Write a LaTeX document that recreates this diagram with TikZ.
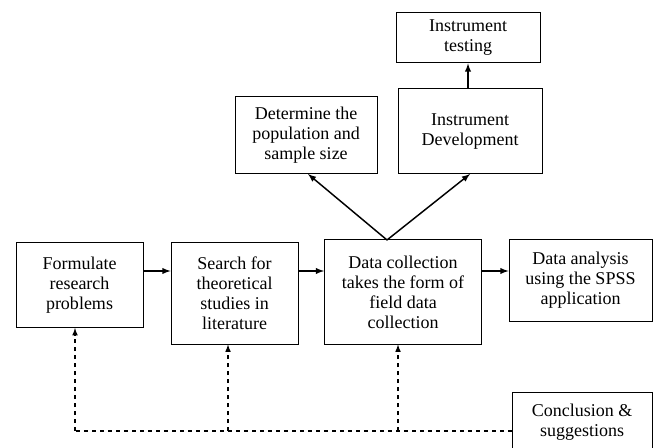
\documentclass[tikz,border=0pt]{standalone}
\usepackage{fontspec}
\setmainfont{Liberation Serif}
\usepackage{tikz}
\usetikzlibrary{positioning, arrows}

\tikzset{
    stage/.style={draw, line width=0.75, align=center, inner sep=0pt,
        font=\fontsize{13.5}{15}\selectfont},
    flow/.style={->, >=latex, line width=1.1},
    back/.style={->, >=latex, dashed, line width=0.9}
}

\begin{document}
\begin{tikzpicture}[x=0.75pt,y=0.75pt,yscale=-1,xscale=1]
    \useasboundingbox (0,0) rectangle (655,448);

    % Boxes of the main row
    \node [stage, minimum width=95.25pt, minimum height=63.75pt] (form) at (79.5,285) {Formulate\\research\\problems};
    \node [stage, minimum width=95.25pt, minimum height=75.75pt] (search) at (234.5,293.5) {Search for\\theoretical\\studies in\\literature};
    \node [stage, minimum width=117.75pt, minimum height=78pt] (collect) at (403,292) {Data collection\\takes the form of\\field data\\collection};
    \node [stage, minimum width=107.25pt, minimum height=60.75pt] (analysis) at (580.5,280.5) {Data analysis\\using the SPSS\\application};

    % Boxes above
    \node [stage, minimum width=106.5pt, minimum height=57.75pt] (sample) at (306,135.5) {Determine the\\population and\\sample size};
    \node [stage, minimum width=108pt, minimum height=63.75pt] (develop) at (470,131.5) {Instrument\\Development};
    \node [stage, minimum width=108pt, minimum height=37.5pt] (testing) at (468,38) {Instrument\\testing};

    % Box at the bottom
    \node [stage, minimum width=105pt, minimum height=45pt] (conclude) at (582,422) {Conclusion \&\\suggestions};

    % Forward arrows
    \coordinate (row) at (0,271);
    \draw [flow] (form.east |- row) -- (search.west |- row);
    \draw [flow] (search.east |- row) -- (collect.west |- row);
    \draw [flow] (collect.east |- row) -- (analysis.west |- row);

    \coordinate (apex) at (387,240);
    \draw [flow] (apex) -- (308,174);
    \draw [flow] (apex) -- (470,174);
    \draw [flow] (develop.north -| 468,0) -- (testing.south);

    % Feedback lines
    \coordinate (fb) at (0,431);
    \coordinate (fb1) at (75,431);
    \coordinate (fb2) at (228,431);
    \coordinate (fb3) at (398,431);
    \draw [dashed, line width=0.9] (conclude.west |- fb) -- (fb1);
    \draw [back] (fb1) -- (fb1 |- form.south);
    \draw [back] (fb2) -- (fb2 |- search.south);
    \draw [back] (fb3) -- (fb3 |- collect.south);

\end{tikzpicture}
\end{document}
